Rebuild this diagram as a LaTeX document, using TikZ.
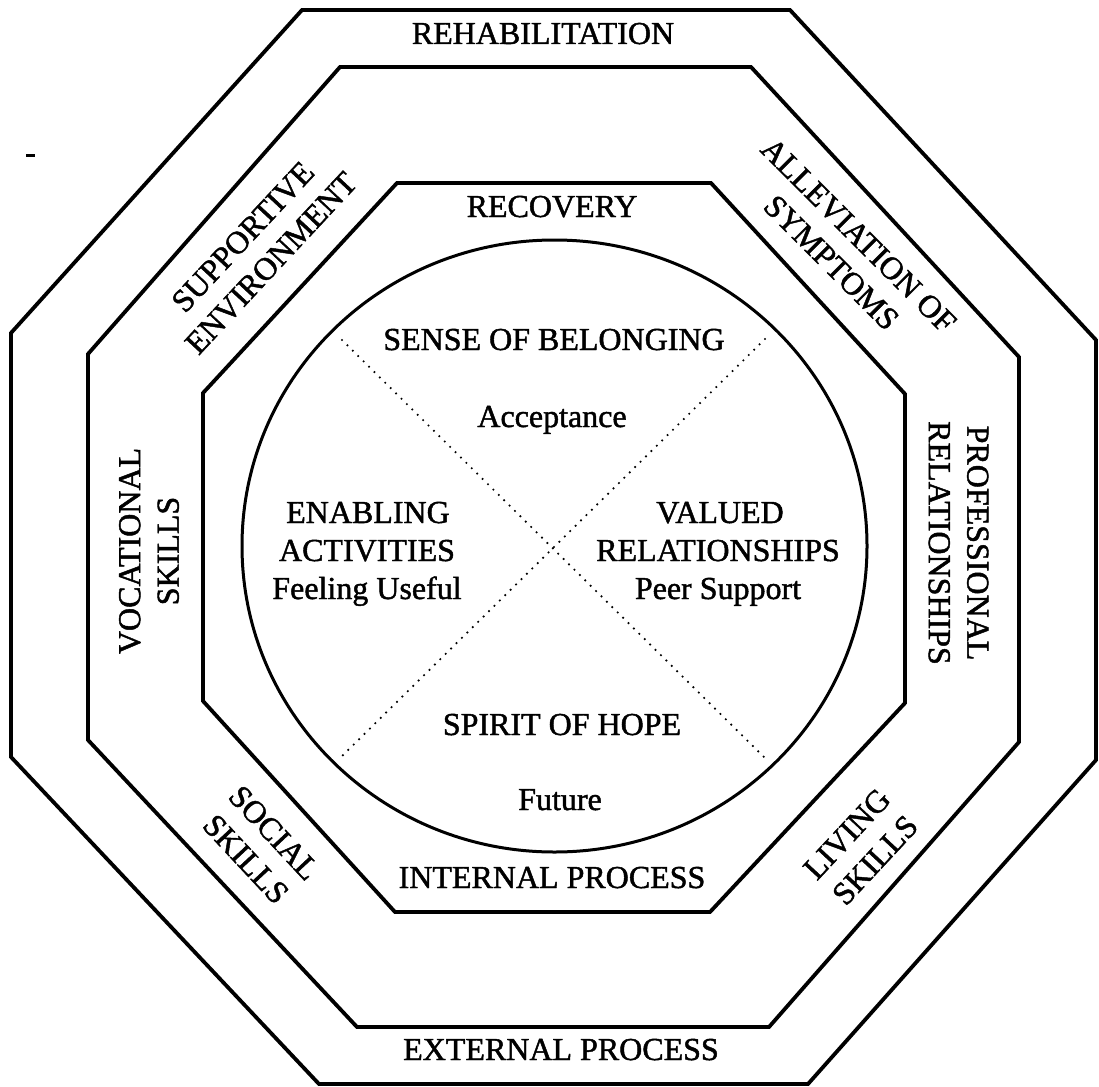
\documentclass[tikz,border=0pt]{standalone}
\usepackage{fontspec}
\setmainfont{Liberation Serif}[FakeBold=1.4]
\begin{document}
\begin{tikzpicture}[x=1pt,y=-1pt,
  oct/.style={line width=3.8pt, line join=miter},
  ring/.style={line width=3pt},
  divider/.style={line width=2.4pt, line cap=round, dash pattern=on 0pt off 7.6pt},
  lbl/.style={font=\fontsize{32}{38.5}\selectfont, align=center, inner sep=0pt},
  bl/.style={lbl, anchor=base},
]
\useasboundingbox (0,0) rectangle (1099,1086);
% octagons
\draw[oct] (302,10) -- (790,10) -- (1096,340) -- (1096,760) -- (808,1084) -- (319,1084) -- (11,757) -- (11,333) -- cycle;
\draw[oct] (340,67) -- (751,67) -- (1019,357) -- (1019,742) -- (769,1027) -- (357,1027) -- (88,740) -- (88,354) -- cycle;
\draw[oct] (397,183) -- (711,183) -- (905,394) -- (905,703) -- (710,912) -- (395,912) -- (203,701) -- (203,393) -- cycle;
% circle
\draw[ring] (554.5,546) ellipse [x radius=312.5, y radius=306];
% dotted dividers
\coordinate (d1) at (342,340);
\coordinate (d2) at (767,760);
\coordinate (d3) at (765,339);
\coordinate (d4) at (338,760);
\draw[divider] (d1) -- (d2);
\draw[divider] (d3) -- (d4);
% stray mark
\draw[line width=3pt] (26,156) -- (35,156);
% ring titles
\node[bl] (rehab) at (543,44) {REHABILITATION};
\node[bl] (recov) at (552,217) {RECOVERY};
\node[bl] (internal) at (552,888) {INTERNAL PROCESS};
\node[bl] (external) at (561,1060) {EXTERNAL PROCESS};
% circle quadrants
\node[bl] (belong) at (554,350) {SENSE OF BELONGING};
\node[bl] (accept) at (552,427) {Acceptance};
\node[bl] (enab1) at (368,523) {ENABLING};
\node[bl] (enab2) at (367,561) {ACTIVITIES};
\node[bl] (enab3) at (367,599) {Feeling Useful};
\node[bl] (val1) at (720,523) {VALUED};
\node[bl] (val2) at (718,561) {RELATIONSHIPS};
\node[bl] (val3) at (718,599) {Peer Support};
\node[bl] (hope) at (562,735) {SPIRIT OF HOPE};
\node[bl] (future) at (560,810) {Future};
% middle ring labels
\node[lbl, rotate=47] (support) at (257,250) {SUPPORTIVE\\ENVIRONMENT};
\node[lbl, rotate=-45] (allev) at (845,249) {ALLEVIATION OF\\SYMPTOMS};
\node[lbl, rotate=90] (voc) at (149,551) {VOCATIONAL\\SKILLS};
\node[lbl, rotate=-90] (prof) at (958.5,543) {PROFESSIONAL\\RELATIONSHIPS};
\node[lbl, rotate=-47] (social) at (260,846) {SOCIAL\\SKILLS};
\node[lbl, rotate=47] (living) at (861,847) {LIVING\\SKILLS};
\end{tikzpicture}
\end{document}
